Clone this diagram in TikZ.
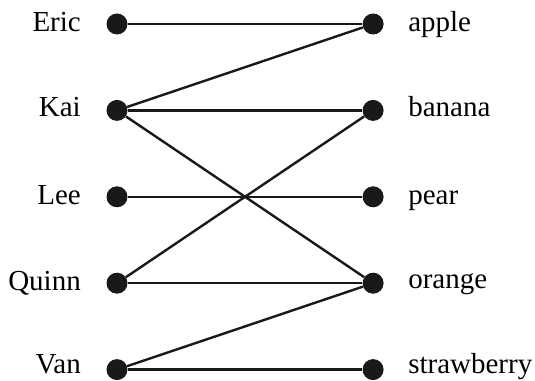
\documentclass[tikz,border=0pt]{standalone}
\usepackage{fontspec}
\setmainfont{Liberation Serif}
\usetikzlibrary{positioning}

\tikzset{
  dot/.style={circle, fill=black!90, inner sep=0pt, minimum size=21pt},
  who/.style={inner sep=0pt, anchor=base east, font=\fontsize{29}{31}\selectfont},
  what/.style={inner sep=0pt, anchor=base west, font=\fontsize{29}{31}\selectfont},
  match/.style={line width=2.4pt, black!90},
}

\begin{document}
\begin{tikzpicture}[x=1pt, y=1pt]
  \useasboundingbox (0,0) rectangle (535,380);

  % people on the left
  \node[dot] (eric) at (117,356) {};
  \node[dot, below=65pt of eric] (kai) {};
  \node[dot, below=65pt of kai] (lee) {};
  \node[dot, below=65pt of lee] (quinn) {};
  \node[dot, below=65pt of quinn] (van) {};

  % fruit on the right
  \node[dot, right=234.7pt of eric] (apple) {};
  \node[dot, right=234.7pt of kai] (banana) {};
  \node[dot, right=234.7pt of lee] (pear) {};
  \node[dot, right=234.7pt of quinn] (orange) {};
  \node[dot, right=234.7pt of van] (strawberry) {};

  % labels
  \node[who] (ericlbl) at ([xshift=-36pt, yshift=-8pt]eric.center) {Eric};
  \node[who] (kailbl) at ([xshift=-36pt, yshift=-6pt]kai.center) {Kai};
  \node[who] (leelbl) at ([xshift=-36pt, yshift=-8pt]lee.center) {Lee};
  \node[who] (quinnlbl) at ([xshift=-36pt, yshift=-7.5pt]quinn.center) {Quinn};
  \node[who] (vanlbl) at ([xshift=-36pt, yshift=-4pt]van.center) {Van};

  \node[what] (applelbl) at ([xshift=35pt, yshift=-8pt]apple.center) {apple};
  \node[what] (bananalbl) at ([xshift=35pt, yshift=-6pt]banana.center) {banana};
  \node[what] (pearlbl) at ([xshift=35pt, yshift=-8pt]pear.center) {pear};
  \node[what] (orangelbl) at ([xshift=35pt, yshift=-5pt]orange.center) {orange};
  \node[what] (strawberrylbl) at ([xshift=35pt, yshift=-4pt]strawberry.center) {strawberry};

  % who likes what
  \draw[match] (eric) -- (apple);
  \draw[match] (kai) -- (apple);
  \draw[match] (kai) -- (banana);
  \draw[match] (kai) -- (orange);
  \draw[match] (lee) -- (pear);
  \draw[match] (quinn) -- (banana);
  \draw[match] (quinn) -- (orange);
  \draw[match] (van) -- (orange);
  \draw[match] (van) -- (strawberry);
\end{tikzpicture}
\end{document}
